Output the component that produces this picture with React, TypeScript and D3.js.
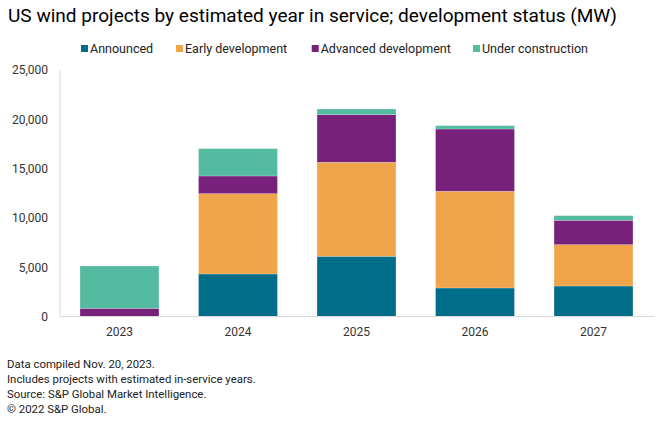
import React from "react";
import * as d3 from "d3";

const years = ["2023", "2024", "2025", "2026", "2027"];
const seriesNames = ["Announced", "Early development", "Advanced development", "Under construction"];
const announced = [0, 4310, 6100, 2890, 3090];
const earlyDevelopment = [0, 8140, 9530, 9800, 4190];
const advancedDevelopment = [830, 1790, 4820, 6310, 2470];
const underConstruction = [4290, 2770, 580, 340, 470];
const yTicks = [0, 5000, 10000, 15000, 20000, 25000];
const colors = ["#006d89", "#f0a54a", "#78217a", "#55bba0"];
const footnotes = [
  "Data compiled Nov. 20, 2023.",
  "Includes projects with estimated in-service years.",
  "Source: S&P Global Market Intelligence.",
  "\u00a9 2022 S&P Global.",
];

const W = 668;
const H = 424;
const FONT = "Roboto, 'Liberation Sans', Arial, sans-serif";

export default function App() {
  const rows = years.map((y, i) => ({
    year: y,
    "Announced": announced[i],
    "Early development": earlyDevelopment[i],
    "Advanced development": advancedDevelopment[i],
    "Under construction": underConstruction[i],
  }));
  const stack = d3.stack<any>().keys(seriesNames)(rows);
  const x = d3.scaleBand().domain(years).range([60, 653]).paddingInner(0.334).paddingOuter(0.169);
  const y = d3.scaleLinear().domain([0, 25000]).range([316.5, 69.8]);
  const fmt = d3.format(",");

  const legendX = [81, 176, 311.7, 473];

  return (
    <div style={{ position: "absolute", left: 0, top: 0 }}>
      <svg width={W} height={H} style={{ display: "block", fontFamily: FONT }}>
        <rect width={W} height={H} fill="#fff" />
        <text x={8} y={22} fontSize={17.5} fill="#000" textLength={609} lengthAdjust="spacingAndGlyphs">
          US wind projects by estimated year in service; development status (MW)
        </text>
        {seriesNames.map((s, i) => (
          <g key={s}>
            <rect x={legendX[i]} y={45} width={7} height={7} fill={colors[i]} />
            <text x={legendX[i] + 9} y={53} fontSize={12.5} fill="#222">{s}</text>
          </g>
        ))}
        {yTicks.map((t) => (
          <text key={t} x={48} y={y(t) + 4.5} fontSize={12} textAnchor="end" fill="#333">
            {fmt(t)}
          </text>
        ))}
        <line x1={60} x2={60} y1={70} y2={316.5} stroke="#d9d9d9" strokeWidth={1} />
        {stack.map((layer, li) => (
          <g key={layer.key} fill={colors[li]}>
            {layer.map((d, i) =>
              d[1] - d[0] > 0 ? (
                <rect
                  key={i}
                  x={x(years[i])!}
                  width={x.bandwidth()}
                  y={y(d[1])}
                  height={y(d[0]) - y(d[1])}
                  stroke="#ffffff"
                  strokeOpacity={0.35}
                  strokeWidth={0.6}
                />
              ) : null
            )}
          </g>
        ))}
        <line x1={60} x2={654} y1={316.5} y2={316.5} stroke="#d9d9d9" strokeWidth={1} />
        {years.map((yr) => (
          <text key={yr} x={x(yr)! + x.bandwidth() / 2} y={336} fontSize={12} textAnchor="middle" fill="#333">
            {yr}
          </text>
        ))}
        {footnotes.map((f, i) => (
          <text key={i} x={7} y={367.5 + i * 15.3} fontSize={11.4} fill="#222">{f}</text>
        ))}
      </svg>
    </div>
  );
}
